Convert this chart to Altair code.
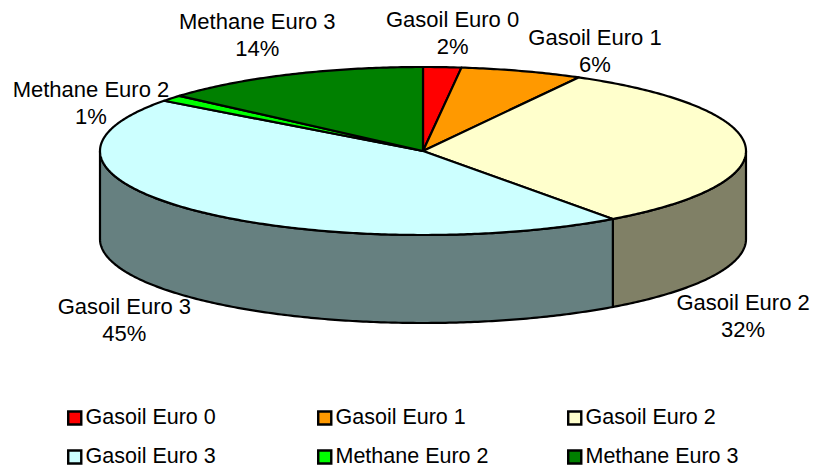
import math
import altair as alt

categories = ["Gasoil Euro 0", "Gasoil Euro 1", "Gasoil Euro 2", "Gasoil Euro 3", "Methane Euro 2", "Methane Euro 3"]
shares = [1.9, 6.1, 32.0, 45.2, 1.2, 13.6]
pct_labels = ["2%", "6%", "32%", "45%", "1%", "14%"]
top_colors = ["#FF0000", "#FF9900", "#FFFFCC", "#CCFFFF", "#00FF00", "#008000"]
side_colors = ["#800000", "#804C00", "#808066", "#668080", "#008000", "#004000"]
# label anchors in pie units (1 = horizontal radius)
label_x = [0.0915, 0.5325, 0.991, -0.9245, -1.028, -0.513]
label_y = [0.405, 0.351, -0.472, -0.484, 0.189, 0.399]

RX, SQUASH, DEPTH = 323.0, 84 / 323, 88 / 323

def rim(theta):
    return (math.sin(theta), math.cos(theta) * SQUASH)

def arc_points(t0, t1):
    n = max(2, int(abs(t1 - t0) * 90))
    return [rim(t0 + (t1 - t0) * i / n) for i in range(n + 1)]

features_side, features_top = [], []
cum = 0.0
for name, share, top, side in zip(categories, shares, top_colors, side_colors):
    t0 = cum / 100 * 2 * math.pi
    cum += share
    t1 = cum / 100 * 2 * math.pi
    ring = [(0.0, 0.0)] + arc_points(t0, t1) + [(0.0, 0.0)]
    features_top.append({"type": "Feature", "properties": {"cat": name},
                         "geometry": {"type": "Polygon", "coordinates": [[list(p) for p in ring]]}})
    a, b = max(t0, math.pi / 2), min(t1, 3 * math.pi / 2)
    if a < b:
        upper = arc_points(a, b)
        lower = [(x, y - DEPTH) for x, y in reversed(upper)]
        poly = upper + lower + [upper[0]]
        features_side.append({"type": "Feature", "properties": {"cat": name, "side": side},
                              "geometry": {"type": "Polygon", "coordinates": [[list(p) for p in poly]]}})

proj = alt.Projection(type="identity", scale=RX, translate=[415, 143], reflectY=True)
LINE = 2.2

sides = alt.Chart(alt.Data(values=features_side)).mark_geoshape(stroke="black", strokeWidth=LINE).encode(
    fill=alt.Fill("properties.side:N", scale=None)
).project(**proj.to_dict())

tops = alt.Chart(alt.Data(values=features_top)).mark_geoshape(stroke="black", strokeWidth=LINE, strokeJoin="round").encode(
    fill=alt.Fill("properties.cat:N", sort=categories,
                  scale=alt.Scale(domain=categories, range=top_colors),
                  legend=alt.Legend(title=None, orient="none", legendX=56, legendY=399,
                                    direction="horizontal",
                                    columns=3, columnPadding=75, rowPadding=17, gridAlign="all",
                                    symbolType="square", symbolSize=170, symbolStrokeColor="black",
                                    symbolStrokeWidth=2.4, symbolOpacity=1, labelFont="Liberation Sans",
                                    labelFontSize=21.5, labelColor="black", labelLimit=400,
                                    clipHeight=22, symbolOffset=0, labelOffset=0))
).project(**proj.to_dict())

label_rows = [{"lon": x, "lat": y, "text": [c, p]}
              for c, p, x, y in zip(categories, pct_labels, label_x, label_y)]
labels = alt.Chart(alt.Data(values=label_rows)).mark_text(
    font="Liberation Sans", fontSize=22, color="black", lineHeight=27, align="center", baseline="middle"
).encode(longitude="lon:Q", latitude="lat:Q", text="text:N").project(**proj.to_dict())

chart = alt.layer(sides, tops, labels).resolve_scale(fill="independent").properties(
    width=802, height=460, padding=0, autosize=alt.AutoSizeParams(type="none")
).configure_view(stroke=None)

chart.save("out.html", embed_options={"renderer": "svg", "actions": False})
